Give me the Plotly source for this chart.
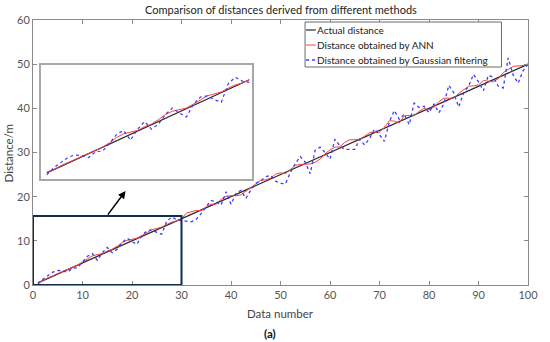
import plotly.graph_objects as go

# ---------------- data ----------------
data_number = list(range(1, 101))

actual_distance = [
    0.5, 1.0, 1.5, 2.0, 2.5, 3.0, 3.5, 4.0, 4.5, 5.0,
    5.5, 6.0, 6.5, 7.0, 7.5, 8.0, 8.5, 9.0, 9.5, 10.0,
    10.5, 11.0, 11.5, 12.0, 12.5, 13.0, 13.5, 14.0, 14.5, 15.0,
    15.5, 16.0, 16.5, 17.0, 17.5, 18.0, 18.5, 19.0, 19.5, 20.0,
    20.5, 21.0, 21.5, 22.0, 22.5, 23.0, 23.5, 24.0, 24.5, 25.0,
    25.5, 26.0, 26.5, 27.0, 27.5, 28.0, 28.5, 29.0, 29.5, 30.0,
    30.5, 31.0, 31.5, 32.0, 32.5, 33.0, 33.5, 34.0, 34.5, 35.0,
    35.5, 36.0, 36.5, 37.0, 37.5, 38.0, 38.5, 39.0, 39.5, 40.0,
    40.5, 41.0, 41.5, 42.0, 42.5, 43.0, 43.5, 44.0, 44.5, 45.0,
    45.5, 46.0, 46.5, 47.0, 47.5, 48.0, 48.5, 49.0, 49.5, 50.0,
]

ann_distance = [
    0.6, 1.0, 1.6, 2.1, 2.5, 3.1, 3.5, 4.1, 4.5, 5.2,
    6.0, 6.6, 6.9, 7.1, 7.7, 8.1, 8.8, 9.6, 10.1, 10.3,
    10.6, 11.2, 11.8, 12.5, 12.8, 13.1, 13.7, 14.2, 14.5, 15.0,
    16.3, 16.6, 16.9, 16.8, 17.7, 18.3, 18.3, 19.4, 20.1, 20.2,
    20.2, 20.4, 21.2, 22.1, 23.0, 23.7, 23.8, 24.2, 25.1, 25.4,
    25.2, 26.2, 27.1, 27.3, 27.4, 27.4, 27.8, 28.5, 29.7, 30.6,
    31.2, 31.3, 32.3, 32.9, 32.9, 33.0, 33.7, 34.5, 34.6, 34.6,
    35.7, 37.2, 37.1, 36.7, 38.3, 38.4, 38.3, 39.3, 40.0, 39.7,
    40.3, 41.5, 42.3, 42.3, 42.3, 43.4, 44.2, 45.0, 45.1, 45.3,
    46.3, 46.2, 46.0, 46.7, 48.1, 48.8, 49.5, 49.6, 49.7, 50.0,
]

gaussian_distance = [
    0.2, 1.3, 2.1, 2.9, 3.3, 3.2, 2.9, 3.8, 3.9, 5.1,
    6.5, 7.1, 5.6, 7.3, 8.5, 7.3, 8.1, 9.6, 10.6, 9.8,
    9.2, 11.2, 12.3, 12.5, 11.9, 11.5, 14.4, 15.4, 14.8, 14.6,
    14.5, 14.3, 14.9, 16.2, 17.8, 19.1, 18.9, 18.1, 21.1, 18.3,
    20.7, 21.4, 19.6, 21.5, 23.0, 23.6, 24.5, 24.8, 23.5, 23.0,
    22.9, 25.5, 27.5, 29.1, 27.8, 25.2, 30.5, 31.2, 30.0, 28.5,
    33.0, 31.5, 30.7, 30.7, 30.7, 33.0, 31.7, 33.2, 35.3, 34.0,
    32.5, 37.0, 39.5, 37.5, 38.7, 36.3, 41.2, 40.2, 40.5, 39.0,
    41.0, 39.0, 41.0, 45.2, 43.5, 40.3, 43.5, 45.0, 47.7, 46.0,
    44.0, 47.5, 47.0, 45.0, 44.6, 51.4, 47.5, 45.7, 48.5, 50.0,
]

x_ticks = [0, 10, 20, 30, 40, 50, 60, 70, 80, 90, 100]
y_ticks = [0, 10, 20, 30, 40, 50, 60]

series_names = ["Actual distance", "Distance obtained by ANN",
                "Distance obtained by Gaussian filtering"]

title_text = "Comparison of distances derived from different methods"
x_title = "Data number"
y_title = "Distance/m"
panel_label = "(a)"

# zoom window of the inset (data range highlighted by the box)
zoom_x = [0, 30]
zoom_y = [0, 15.6]
inset_n = 30

# ---------------- layout constants ----------------
W, H = 550, 342
L, R, T, B = 33, 537, 20, 285
FONT = "Lato, 'Open Sans', sans-serif"
AXIS_GREY = "#8a8a8a"
TICK_GREY = "#555555"

BLACK = "#2b2b2b"
RED = "#ff4040"
BLUE = "#3b3bff"


def px_x(p):
    return (p - L) / (R - L)


def px_y(p):
    return (B - p) / (B - T)


fig = go.Figure()

# main traces
fig.add_trace(go.Scatter(x=data_number, y=actual_distance, mode="lines",
                         line=dict(color=BLACK, width=1.3), name=series_names[0],
                         showlegend=False))
fig.add_trace(go.Scatter(x=data_number, y=ann_distance, mode="lines",
                         line=dict(color=RED, width=1), name=series_names[1],
                         showlegend=False))
fig.add_trace(go.Scatter(x=data_number, y=gaussian_distance, mode="lines",
                         line=dict(color=BLUE, width=1.3, dash="dot"),
                         name=series_names[2], showlegend=False))

# inset traces (first 30 points)
fig.add_trace(go.Scatter(x=data_number[:inset_n], y=actual_distance[:inset_n],
                         mode="lines", line=dict(color=BLACK, width=1.2),
                         xaxis="x2", yaxis="y2", showlegend=False))
fig.add_trace(go.Scatter(x=data_number[:inset_n], y=ann_distance[:inset_n],
                         mode="lines", line=dict(color=RED, width=1),
                         xaxis="x2", yaxis="y2", showlegend=False))
fig.add_trace(go.Scatter(x=data_number[:inset_n], y=gaussian_distance[:inset_n],
                         mode="lines", line=dict(color=BLUE, width=1.2, dash="dot"),
                         xaxis="x2", yaxis="y2", showlegend=False))

axis_common = dict(showgrid=False, zeroline=False, showline=True,
                   linecolor=AXIS_GREY, linewidth=1, mirror="ticks",
                   ticks="inside", ticklen=4, tickcolor=AXIS_GREY,
                   tickfont=dict(family=FONT, size=11, color=TICK_GREY))

shapes = []
# zoom box
shapes.append(dict(type="rect", xref="x", yref="y",
                   x0=zoom_x[0], x1=zoom_x[1], y0=zoom_y[0], y1=zoom_y[1],
                   line=dict(color="#0f2d4d", width=2), layer="above"))

# custom legend
lg_x0, lg_x1, lg_y0, lg_y1 = 310, 510, 22, 67
shapes.append(dict(type="rect", xref="paper", yref="paper",
                   x0=px_x(lg_x0), x1=px_x(lg_x1), y0=px_y(lg_y1), y1=px_y(lg_y0),
                   line=dict(color="#6a6a6a", width=1), fillcolor="white",
                   layer="above"))
legend_rows = [30, 45, 60]
legend_styles = [dict(color=BLACK, width=1.2),
                 dict(color=RED, width=1),
                 dict(color=BLUE, width=1.3, dash="dot")]
annotations = []
for row, style, name in zip(legend_rows, legend_styles, series_names):
    shapes.append(dict(type="line", xref="paper", yref="paper",
                       x0=px_x(lg_x0 + 1), x1=px_x(lg_x0 + 11),
                       y0=px_y(row), y1=px_y(row), line=style, layer="above"))
    annotations.append(dict(text=name, xref="paper", yref="paper",
                            x=px_x(lg_x0 + 10), y=px_y(row), xanchor="left",
                            yanchor="middle", showarrow=False,
                            font=dict(family=FONT, size=10, color="#222222")))

# arrow from zoom box towards the inset
annotations.append(dict(x=18.7, y=21.3, ax=14.9, ay=zoom_y[1], xref="x", yref="y",
                        axref="x", ayref="y", text="", showarrow=True,
                        arrowhead=2, arrowsize=1, arrowwidth=1.5,
                        arrowcolor="#000000"))

# titles
annotations.append(dict(text=title_text, xref="paper", yref="paper",
                        x=px_x(285), y=px_y(9), xanchor="center", yanchor="middle",
                        showarrow=False,
                        font=dict(family=FONT, size=11, color="#222222")))
annotations.append(dict(text=x_title, xref="paper", yref="paper",
                        x=px_x(285), y=px_y(313), xanchor="center", yanchor="middle",
                        showarrow=False,
                        font=dict(family=FONT, size=11.5, color="#444444")))
annotations.append(dict(text=y_title, xref="paper", yref="paper",
                        x=px_x(8), y=px_y(153), xanchor="center", yanchor="middle",
                        textangle=-90, showarrow=False,
                        font=dict(family=FONT, size=11.5, color="#444444")))
annotations.append(dict(text="<b>" + panel_label + "</b>", xref="paper", yref="paper",
                        x=px_x(274), y=px_y(333), xanchor="center", yanchor="middle",
                        showarrow=False,
                        font=dict(family=FONT, size=11.5, color="#111111")))

fig.update_layout(
    width=W, height=H,
    margin=dict(l=L, r=W - R, t=T, b=H - B, pad=0),
    paper_bgcolor="white", plot_bgcolor="white",
    showlegend=False,
    xaxis=dict(range=[0, 100], tickvals=x_ticks, **axis_common),
    yaxis=dict(range=[0, 60], tickvals=y_ticks, **axis_common),
    xaxis2=dict(domain=[px_x(41), px_x(256)], anchor="y2", range=[0.15, 30.4],
                showgrid=False, zeroline=False, showticklabels=False,
                showline=True, mirror=True, linecolor="#a8a8a8", linewidth=1.5,
                ticks=""),
    yaxis2=dict(domain=[px_y(179), px_y(65)], anchor="x2", range=[-0.45, 17.3],
                showgrid=False, zeroline=False, showticklabels=False,
                showline=True, mirror=True, linecolor="#a8a8a8", linewidth=1.5,
                ticks=""),
    shapes=shapes,
    annotations=annotations,
)

fig.write_html(
    "out.html",
    config={"displayModeBar": False},
    post_script="document.body.style.margin='0';document.body.style.overflow='hidden';",
)
